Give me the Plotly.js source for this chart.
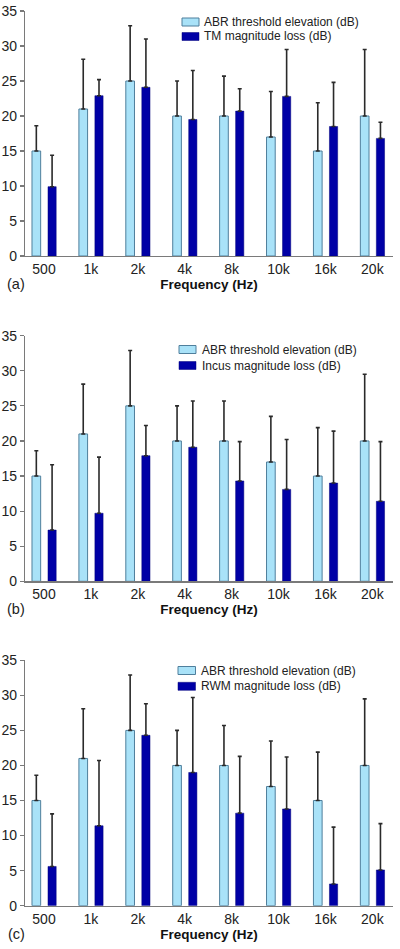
<!DOCTYPE html>
<html>
<head>
<meta charset="utf-8">
<script src="https://cdn.plot.ly/plotly-3.0.1.min.js"></script>
<style>html,body{margin:0;padding:0;background:#fff;}#chart{width:400px;height:949px;}</style>
</head>
<body>
<div id="chart"></div>
<script>
const freqs = ["500", "1k", "2k", "4k", "8k", "10k", "16k", "20k"];

const abrValues = [15, 21, 25, 20, 20, 17, 15, 20];
const abrErr    = [3.6, 7.1, 7.9, 5.0, 5.7, 6.5, 6.9, 9.5];

const tmValues  = [9.9, 22.9, 24.1, 19.5, 20.7, 22.8, 18.5, 16.8];
const tmErr     = [4.5, 2.3, 6.9, 7.0, 3.2, 6.7, 6.3, 2.3];

const incusValues = [7.3, 9.7, 17.9, 19.1, 14.3, 13.1, 14.0, 11.4];
const incusErr    = [9.3, 8.0, 4.3, 6.6, 5.6, 7.1, 7.4, 8.5];

const rwmValues = [5.6, 11.4, 24.3, 19.0, 13.2, 13.8, 3.1, 5.1];
const rwmErr    = [7.5, 9.3, 4.5, 10.7, 8.1, 7.4, 8.1, 6.6];

const abrName = "ABR threshold elevation (dB)";
const panelLabels = ["(a)", "(b)", "(c)"];
const seriesNames = ["TM magnitude loss (dB)", "Incus magnitude loss (dB)", "RWM magnitude loss (dB)"];
const seriesValues = [tmValues, incusValues, rwmValues];
const seriesErrs = [tmErr, incusErr, rwmErr];

const lightFill = "#a9e2f8", lightLine = "#4f7f9c";
const darkFill = "#0000a6";
const errColor = "#2a2a2a";
const zeros = freqs.map(() => 0);

const W = 400, H = 949;
const px = v => v / W;
const py = v => 1 - v / H;
// plot-area pixel extents per panel
const yDomains = [
  [py(256), py(11)],
  [py(581.3), py(335.7)],
  [py(905.7), py(660.3)]
];
const xDomain = [px(25), px(393)];
// legend placement (pixels): swatch x0,x1, text x, row centres
const legendPos = [
  {sx: 182, ex: 199, tx: 203, r1: 22, r2: 36.5},
  {sx: 179, ex: 196, tx: 200.5, r1: 349.5, r2: 365.5},
  {sx: 178, ex: 195.5, tx: 200, r1: 670.5, r2: 686.3}
];

const fam = "Liberation Sans, Arial, sans-serif";
const traces = [];
const layout = {
  width: W, height: H,
  margin: {l: 0, r: 0, t: 0, b: 0},
  paper_bgcolor: "#fff", plot_bgcolor: "#fff",
  font: {family: fam, size: 13, color: "#222"},
  showlegend: false,
  annotations: [],
  shapes: [],
  barmode: "overlay"
};

panelLabels.forEach((label, i) => {
  const n = i === 0 ? "" : String(i + 1);
  const xa = "x" + n, ya = "y" + n;
  traces.push({
    type: "bar", x: freqs, y: abrValues, name: abrName,
    xaxis: xa, yaxis: ya,
    offset: -0.256, width: 0.185,
    marker: {color: lightFill, line: {color: lightLine, width: 1}},
    error_y: {type: "data", symmetric: false, array: abrErr, arrayminus: zeros,
              color: errColor, thickness: 1.6, width: 2}
  });
  traces.push({
    type: "bar", x: freqs, y: seriesValues[i], name: seriesNames[i],
    xaxis: xa, yaxis: ya,
    offset: 0.085, width: 0.175,
    marker: {color: darkFill, line: {color: "#00007a", width: 0.5}},
    error_y: {type: "data", symmetric: false, array: seriesErrs[i], arrayminus: zeros,
              color: errColor, thickness: 1.6, width: 2}
  });
  layout["xaxis" + n] = {
    domain: xDomain, anchor: ya, range: [-0.405, 7.44],
    showline: true, linecolor: "#7a7a7a", linewidth: 1.2,
    ticks: "", showgrid: false, zeroline: false, fixedrange: true,
    tickfont: {family: fam, size: 14, color: "#222"},
    automargin: false,
    title: {text: "<b>Frequency (Hz)</b>", font: {family: fam, size: 13.5, color: "#111"}, standoff: 3}
  };
  layout["yaxis" + n] = {
    domain: yDomains[i], anchor: xa, range: [0, 35], dtick: 5,
    showline: true, linecolor: "#7a7a7a", linewidth: 1.2,
    ticks: "outside", ticklen: 4, tickcolor: "#7a7a7a", tickwidth: 1.2,
    showgrid: false, zeroline: false, fixedrange: true, automargin: false,
    tickfont: {family: fam, size: 14, color: "#222"}
  };
  // manual legend
  const L = legendPos[i];
  layout.shapes.push({type: "rect", xref: "paper", yref: "paper",
    x0: px(L.sx), x1: px(L.ex), y0: py(L.r1 - 4), y1: py(L.r1 + 4),
    fillcolor: lightFill, line: {color: lightLine, width: 1}});
  layout.shapes.push({type: "rect", xref: "paper", yref: "paper",
    x0: px(L.sx), x1: px(L.ex), y0: py(L.r2 - 4), y1: py(L.r2 + 4),
    fillcolor: darkFill, line: {color: "#00007a", width: 0.5}});
  [[abrName, L.r1], [seriesNames[i], L.r2]].forEach(([t, r]) => {
    layout.annotations.push({text: t, xref: "paper", yref: "paper",
      x: px(L.tx), y: py(r), xanchor: "left", yanchor: "middle",
      showarrow: false, xshift: -1,
      font: {family: fam, size: 12, color: "#222"}});
  });
  layout.annotations.push({
    text: label, xref: "paper", yref: "paper",
    x: px(16), y: yDomains[i][0] - 28 / H, xanchor: "center", yanchor: "middle",
    showarrow: false, font: {family: fam, size: 14.5, color: "#222"}
  });
});

Plotly.newPlot("chart", traces, layout, {displayModeBar: false, staticPlot: true});
</script>
</body>
</html>
